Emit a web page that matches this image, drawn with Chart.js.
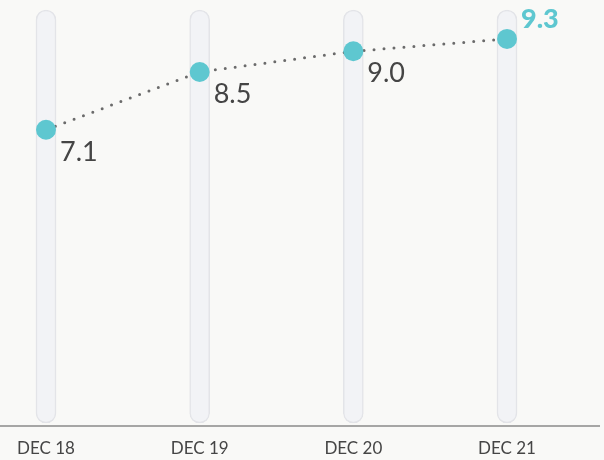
<!DOCTYPE html>
<html>
<head>
<meta charset="utf-8">
<script src="https://cdn.jsdelivr.net/npm/chart.js@4/dist/chart.umd.min.js"></script>
<style>
  html, body { margin: 0; padding: 0; background: #f9f9f7; }
  #wrap { width: 604px; height: 460px; }
</style>
</head>
<body>
<div id="wrap"><canvas id="ratio-chart"></canvas></div>
<script>
const labels = ['DEC 18', 'DEC 19', 'DEC 20', 'DEC 21'];
const values = [7.1, 8.5, 9.0, 9.3];
const trackMax = [10, 10, 10, 10];

const TEAL = '#5ec7d0';
const TEXT = '#454545';

// value labels next to each dot, last one highlighted
const valueLabels = {
    id: 'valueLabels',
    afterDatasetsDraw(chart) {
        const meta = chart.getDatasetMeta(1);
        const c = chart.ctx;
        c.save();
        meta.data.forEach((pt, i) => {
            const last = i === values.length - 1;
            c.font = last ? '900 27px Lato' : '400 27px Lato';
            c.fillStyle = last ? TEAL : TEXT;
            c.textAlign = 'left';
            c.textBaseline = 'alphabetic';
            c.fillText(values[i].toFixed(1), pt.x + 14, last ? pt.y - 11 : pt.y + 31);
        });
        c.restore();
    }
};

// bottom rule across the full width
const baseline = {
    id: 'baseline',
    beforeDatasetsDraw(chart) {
        const c = chart.ctx;
        const y = chart.chartArea.bottom + 3;
        c.save();
        c.strokeStyle = '#8a8a8a';
        c.lineWidth = 1.5;
        c.beginPath();
        c.moveTo(0, y);
        c.lineTo(600, y);
        c.stroke();
        c.restore();
    }
};

document.addEventListener('DOMContentLoaded', () => {
    const ctx = document.getElementById('ratio-chart');
    new Chart(ctx, {
        data: {
            labels: labels,
            datasets: [{
                type: 'bar',
                data: trackMax,
                backgroundColor: '#f2f3f6',
                borderColor: '#e3e4e8',
                borderWidth: 1.5,
                borderRadius: 10,
                borderSkipped: false,
                barThickness: 20,
                clip: false,
                order: 2
            }, {
                type: 'line',
                data: values,
                borderColor: '#6b6b6b',
                borderWidth: 3,
                borderDash: [0, 10],
                borderCapStyle: 'round',
                pointRadius: 10,
                pointHoverRadius: 10,
                pointBackgroundColor: TEAL,
                pointBorderWidth: 0,
                tension: 0,
                clip: false,
                order: 1
            }]
        },
        options: {
            responsive: true,
            maintainAspectRatio: false,
            animation: false,
            layout: { padding: { left: 46, right: 97, top: 10, bottom: 6 } },
            plugins: {
                legend: { display: false },
                tooltip: { enabled: false }
            },
            scales: {
                x: {
                    offset: false,
                    grid: { display: false, drawTicks: false },
                    border: { display: false },
                    afterFit: (scale) => { scale.height = 31; },
                    ticks: {
                        padding: 15,
                        maxRotation: 0,
                        color: TEXT,
                        font: { family: 'Lato', size: 17 }
                    }
                },
                y: {
                    display: false,
                    min: 0,
                    max: 10
                }
            }
        },
        plugins: [baseline, valueLabels]
    });
});
</script>
</body>
</html>
